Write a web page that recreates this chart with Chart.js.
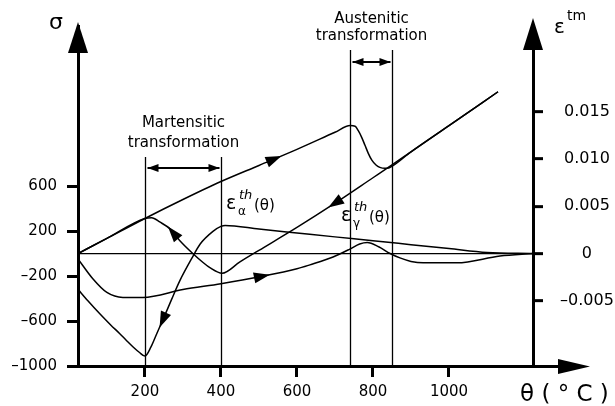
<!DOCTYPE html>
<html>
<head>
<meta charset="utf-8">
<script src="https://cdn.jsdelivr.net/npm/chart.js@4.4.1/dist/chart.umd.min.js"></script>
<style>
  body { margin: 0; background: #fff; }
  canvas { display: block; }
</style>
</head>
<body>
<canvas id="cycleChart" width="615" height="406"></canvas>
<script>
// temperature (°C) and thermal strain on heating
const heatTheta = [24, 100, 200, 300, 400, 500, 600, 700, 740, 753, 761, 770, 779, 788, 797, 808, 818, 832, 843, 900, 1000, 1129];
const heatStrain = [0, 0.0016, 0.0037, 0.0057, 0.0076, 0.0093, 0.0110, 0.0128, 0.01351, 0.01344, 0.01299, 0.01229, 0.01143, 0.01055, 0.00986, 0.00934, 0.00909, 0.00899, 0.00906, 0.01074, 0.01351, 0.01708];

// thermal strain on cooling (listed by increasing temperature)
const coolTheta = [24, 100, 200, 218, 239, 266, 292, 326, 353, 371, 403, 450, 500, 600, 700, 800, 850, 900, 1000, 1129];
const coolStrain = [0, 0.0016, 0.0037, 0.00378, 0.00333, 0.0026, 0.00135, 0.0, -0.00095, -0.0015, -0.00208, -0.00088, 0.00033, 0.00275, 0.00531, 0.0080, 0.00935, 0.01074, 0.01351, 0.01708];

// stress curves (MPa)
const stressATheta = [24, 63, 100, 142, 195, 300, 400, 503, 600, 634, 695, 739, 765, 785, 815, 845, 871, 900, 932, 1021, 1134, 1221];
const stressA = [-48, -224, -346, -390, -390, -320, -268, -206, -136, -101, -31, 39, 85, 98, 60, 0, -39, -70, -83, -83, -22, 0];

const stressBTheta = [24, 50, 82, 110, 134, 152, 169, 185, 200, 216, 232, 247, 270, 292, 324, 345, 379, 400, 411, 500, 600, 700, 800, 900, 1000, 1100, 1221];
const stressB = [-318, -420, -538, -635, -713, -775, -831, -878, -912, -830, -706, -592, -410, -241, -39, 83, 197, 241, 250, 218, 183, 148, 114, 79, 44, 9, 0];

const thetaTicks = [200, 400, 600, 800, 1000];
const stressTicks = [-1000, -600, -200, 200, 600];
const strainTicks = [-0.005, 0, 0.005, 0.010, 0.015];

const martensiticRange = [200, 400];
const austeniticRange = [740, 850];

// arrowheads along the curves: which curve, at what temperature, which way
const curveArrows = [
  { curve: 'heat', at: 540, dir: 1 },
  { curve: 'cool', at: 700, dir: -1 },
  { curve: 'cool', at: 274, dir: -1 },
  { curve: 'stressB', at: 247, dir: -1 },
  { curve: 'stressA', at: 508, dir: 1 },
];

const FONT = "'DejaVu Sans', Verdana, sans-serif";

const curves = {
  heat: { xs: heatTheta, ys: heatStrain, axis: 'yR' },
  cool: { xs: coolTheta, ys: coolStrain, axis: 'yR' },
  stressA: { xs: stressATheta, ys: stressA, axis: 'yL' },
  stressB: { xs: stressBTheta, ys: stressB, axis: 'yL' },
};

function toPoints(xs, ys) {
  return xs.map((x, i) => ({ x: x, y: ys[i] }));
}

function interp(xs, ys, t) {
  for (let i = 1; i < xs.length; i++) {
    if (t <= xs[i]) {
      const f = (t - xs[i - 1]) / (xs[i] - xs[i - 1]);
      return ys[i - 1] + f * (ys[i] - ys[i - 1]);
    }
  }
  return ys[ys.length - 1];
}

function triangle(c, tipX, tipY, ux, uy, len, half) {
  const bx = tipX - ux * len, by = tipY - uy * len;
  c.beginPath();
  c.moveTo(tipX, tipY);
  c.lineTo(bx - uy * half, by + ux * half);
  c.lineTo(bx + uy * half, by - ux * half);
  c.closePath();
  c.fill();
}

const decor = {
  id: 'decor',
  afterDraw(chart) {
    const c = chart.ctx;
    const area = chart.chartArea;
    const sx = chart.scales.x;
    c.save();
    c.fillStyle = '#000';
    c.strokeStyle = '#000';

    // axis arrows
    c.lineWidth = 3;
    c.beginPath();
    c.moveTo(area.right, area.bottom + 0.5);
    c.lineTo(562, area.bottom + 0.5);
    c.stroke();
    triangle(c, 590, area.bottom + 0.5, 1, 0, 32, 7.5);
    triangle(c, area.left, 22, 0, -1, 31, 10);
    triangle(c, area.right, 18, 0, -1, 32, 10);

    // transformation brackets
    const brackets = [
      { range: martensiticRange, top: 157, bar: 168, lines: ['Martensitic', 'transformation'], textY: [127, 147] },
      { range: austeniticRange, top: 50, bar: 62, lines: ['Austenitic', 'transformation'], textY: [23, 40] },
    ];
    brackets.forEach(b => {
      const x1 = Math.round(sx.getPixelForValue(b.range[0])) + 0.5;
      const x2 = Math.round(sx.getPixelForValue(b.range[1])) + 0.5;
      c.lineWidth = 1.3;
      c.beginPath();
      c.moveTo(x1, b.top); c.lineTo(x1, area.bottom);
      c.moveTo(x2, b.top); c.lineTo(x2, area.bottom);
      c.stroke();
      c.lineWidth = 2;
      c.beginPath();
      c.moveTo(x1 + 2, b.bar); c.lineTo(x2 - 2, b.bar);
      c.stroke();
      triangle(c, x1 + 2, b.bar, -1, 0, 11, 4);
      triangle(c, x2 - 2, b.bar, 1, 0, 11, 4);
      c.font = '15px ' + FONT;
      c.textAlign = 'center';
      c.textBaseline = 'alphabetic';
      const cx = (x1 + x2) / 2;
      c.fillText(b.lines[0], cx, b.textY[0]);
      c.fillText(b.lines[1], cx, b.textY[1]);
    });

    // arrowheads on the curves
    curveArrows.forEach(a => {
      const cv = curves[a.curve];
      const sy = chart.scales[cv.axis];
      const px = t => sx.getPixelForValue(t);
      const py = t => sy.getPixelForValue(interp(cv.xs, cv.ys, t));
      const x0 = px(a.at - 6), y0 = py(a.at - 6);
      const x1 = px(a.at + 6), y1 = py(a.at + 6);
      let ux = (x1 - x0) * a.dir, uy = (y1 - y0) * a.dir;
      const n = Math.hypot(ux, uy);
      ux /= n; uy /= n;
      const cx = px(a.at), cy = py(a.at);
      triangle(c, cx + ux * 8, cy + uy * 8, ux, uy, 16, 5.5);
    });

    // axis titles
    c.textAlign = 'left';
    c.textBaseline = 'alphabetic';
    c.font = '22px ' + FONT;
    c.fillText('σ', 49, 29);
    c.font = '20px ' + FONT;
    c.fillText('ε', 554, 33);
    c.font = '14px ' + FONT;
    c.fillText('tm', 567, 20);
    c.font = '23px ' + FONT;
    c.fillText('θ ( ° C )', 520, 401);

    // strain labels
    const strainLabel = (x, y, sub) => {
      c.font = '19px ' + FONT;
      c.fillText('ε', x, y);
      c.font = 'italic 13px ' + FONT;
      c.fillText('th', x + 13, y - 10);
      c.font = '12px ' + FONT;
      c.fillText(sub, x + 12, y + 6);
      c.font = '15px ' + FONT;
      c.fillText('(θ)', x + 28, y + 1);
    };
    strainLabel(226, 209, 'α');
    strainLabel(341, 221, 'γ');

    c.restore();
  }
};

const lineStyle = {
  borderColor: '#000',
  borderWidth: 1.5,
  pointRadius: 0,
  fill: false,
  cubicInterpolationMode: 'monotone',
};

const ctx = document.getElementById('cycleChart').getContext('2d');

const cycleChart = new Chart(ctx, {
  type: 'line',
  data: {
    datasets: [
      { ...lineStyle, label: 'heating', data: toPoints(heatTheta, heatStrain), yAxisID: 'yR' },
      { ...lineStyle, label: 'cooling', data: toPoints(coolTheta, coolStrain), yAxisID: 'yR' },
      { ...lineStyle, label: 'stress A', data: toPoints(stressATheta, stressA), yAxisID: 'yL' },
      { ...lineStyle, label: 'stress B', data: toPoints(stressBTheta, stressB), yAxisID: 'yL' },
    ]
  },
  options: {
    responsive: false,
    animation: false,
    layout: { padding: { top: 22 } },
    plugins: {
      legend: { display: false },
      tooltip: { enabled: false },
    },
    scales: {
      x: {
        type: 'linear',
        min: 24,
        max: 1221,
        afterBuildTicks: s => { s.ticks = thetaTicks.map(v => ({ value: v })); },
        afterFit: s => { s.height = 40; },
        border: { color: '#000', width: 3 },
        grid: { drawOnChartArea: false, tickLength: 11, tickWidth: 3, tickColor: '#000' },
        ticks: {
          color: '#000',
          font: { family: FONT, size: 15 },
          padding: 6,
          maxRotation: 0,
          autoSkip: false,
          callback: v => String(v),
        }
      },
      yL: {
        type: 'linear',
        position: 'left',
        min: -1000,
        max: 2017.5,
        afterBuildTicks: s => { s.ticks = stressTicks.map(v => ({ value: v })); },
        afterFit: s => { s.width = 78; },
        border: { color: '#000', width: 3 },
        grid: { drawOnChartArea: false, tickLength: 11, tickWidth: 3, tickColor: '#000' },
        ticks: {
          color: '#000',
          font: { family: FONT, size: 15 },
          padding: 10,
          autoSkip: false,
          callback: v => (v < 0 ? '–' + (-v) : String(v)),
        }
      },
      yR: {
        type: 'linear',
        position: 'right',
        min: -0.011875,
        max: 0.023958,
        afterBuildTicks: s => { s.ticks = strainTicks.map(v => ({ value: v })); },
        afterFit: s => { s.width = 82; },
        border: { color: '#000', width: 3 },
        grid: {
          drawOnChartArea: true,
          color: c => (c.tick && c.tick.value === 0 ? '#000' : 'rgba(0,0,0,0)'),
          lineWidth: 1.3,
          tickLength: 10,
          tickWidth: 3,
          tickColor: '#000',
        },
        ticks: {
          color: '#000',
          font: { family: FONT, size: 16 },
          padding: 17,
          crossAlign: 'center',
          autoSkip: false,
          callback: v => (v === 0 ? '0' : (v < 0 ? '–' : '') + Math.abs(v).toFixed(3)),
        }
      }
    }
  },
  plugins: [decor]
});
</script>
</body>
</html>
